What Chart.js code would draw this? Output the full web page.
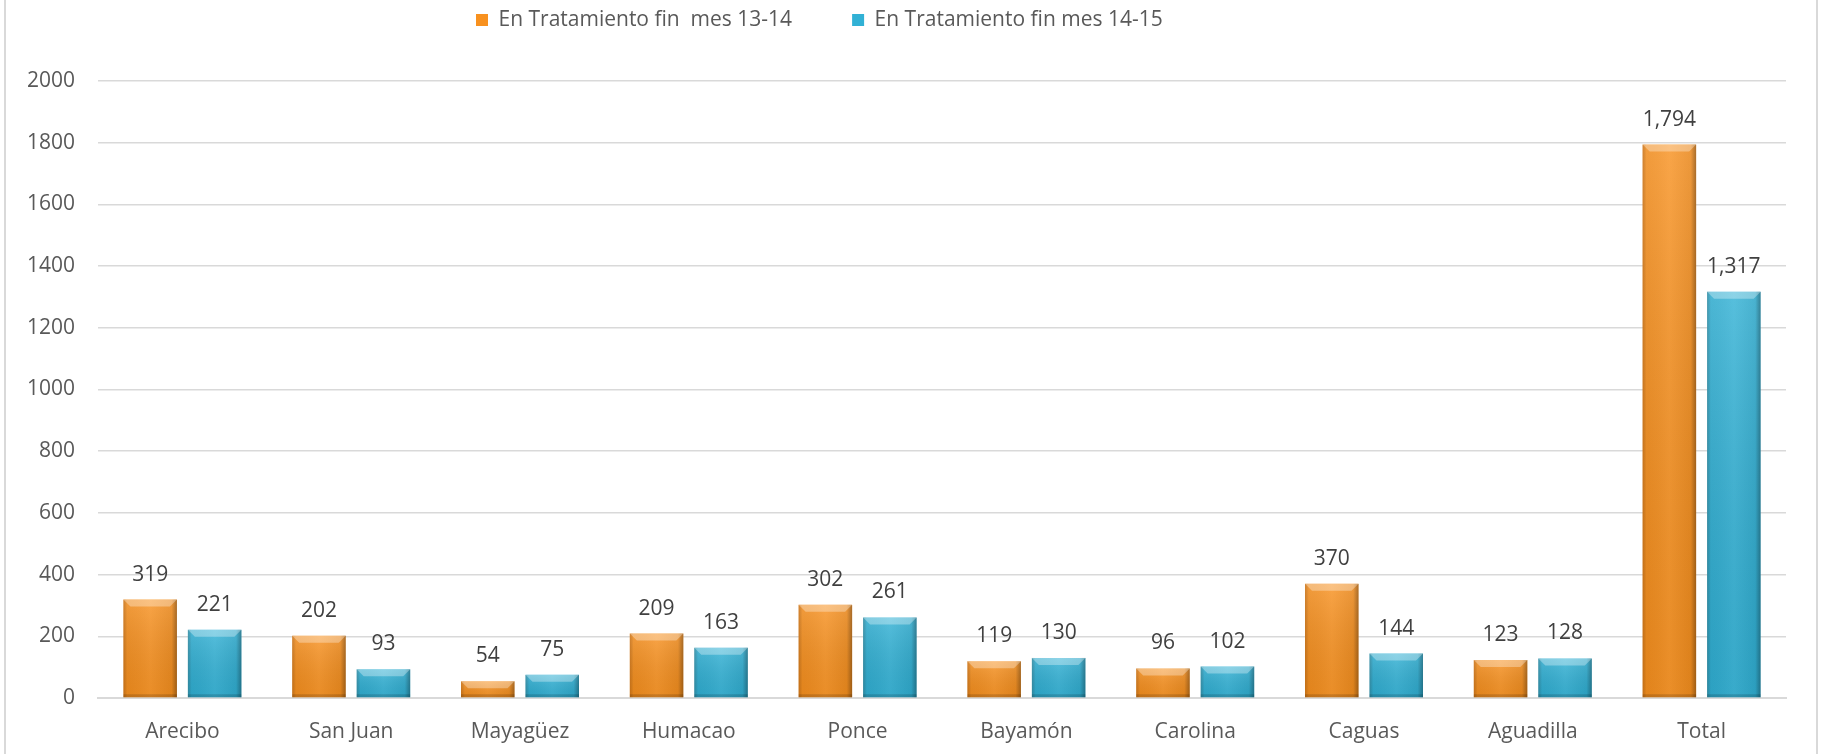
<!DOCTYPE html>
<html>
<head>
<meta charset="utf-8">
<script src="https://cdn.jsdelivr.net/npm/chart.js@4.4.1/dist/chart.umd.min.js"></script>
<style>
    html, body { margin: 0; padding: 0; background: #fff; overflow: hidden; }
    #wrap { position: relative; width: 1821px; height: 754px; }
    #frame { position: absolute; left: 4px; top: -3px; width: 1810px; height: 756px; border: 2px solid #d9d9d9; pointer-events: none; }
</style>
</head>
<body>
<div id="wrap">
    <canvas id="chart" width="1821" height="754"></canvas>
    <div id="frame"></div>
</div>
<script>
const categories = ["Arecibo", "San Juan", "Mayagüez", "Humacao", "Ponce", "Bayamón", "Carolina", "Caguas", "Aguadilla", "Total"];
const tratamiento1314 = [319, 202, 54, 209, 302, 119, 96, 370, 123, 1794];
const tratamiento1415 = [221, 93, 75, 163, 261, 130, 102, 144, 128, 1317];
const seriesLabels = ["En Tratamiento fin  mes 13-14", "En Tratamiento fin mes 14-15"];
const yMin = 0;
const yMax = 2000;
const yStep = 200;

const textColor = "#595959";
const gridColor = "#d9d9d9";

// 3D-ish bevel + value labels on top of each bar
const barDecor = {
    id: "barDecor",
    afterDatasetsDraw(chart) {
        const ctx = chart.ctx;
        chart.data.datasets.forEach((ds, di) => {
            const meta = chart.getDatasetMeta(di);
            meta.data.forEach((bar, i) => {
                const p = bar.getProps(["x", "y", "base", "width"], true);
                const left = p.x - p.width / 2;
                const right = p.x + p.width / 2;
                const top = p.y;
                const bottom = p.base;
                const h = bottom - top;

                ctx.save();
                // vertical light -> dark
                let g = ctx.createLinearGradient(0, top, 0, bottom);
                g.addColorStop(0, "rgba(255,255,255,0.14)");
                g.addColorStop(1, "rgba(0,0,0,0.06)");
                ctx.fillStyle = g;
                ctx.fillRect(left, top, p.width, h);

                // darker side edges
                g = ctx.createLinearGradient(left, 0, right, 0);
                g.addColorStop(0, "rgba(60,20,0,0.22)");
                g.addColorStop(0.07, "rgba(0,0,0,0.03)");
                g.addColorStop(0.5, "rgba(255,255,255,0.05)");
                g.addColorStop(0.9, "rgba(0,0,0,0.05)");
                g.addColorStop(1, "rgba(0,0,0,0.32)");
                ctx.fillStyle = g;
                ctx.fillRect(left, top, p.width, h);

                // top bevel
                const b = Math.min(7, h / 2);
                ctx.beginPath();
                ctx.moveTo(left, top);
                ctx.lineTo(right, top);
                ctx.lineTo(right - b, top + b);
                ctx.lineTo(left + b, top + b);
                ctx.closePath();
                ctx.fillStyle = "rgba(255,255,255,0.32)";
                ctx.fill();

                // bottom shade
                ctx.fillStyle = "rgba(0,0,0,0.15)";
                ctx.fillRect(left, bottom - 3, p.width, 3);

                // value label
                ctx.fillStyle = "#404040";
                ctx.font = "21px 'Open Sans'";
                ctx.textAlign = "center";
                ctx.textBaseline = "middle";
                ctx.fillText(ds.data[i].toLocaleString("en-US"), p.x, top - 25);
                ctx.restore();
            });
        });
    }
};

// legend sits left of centre and higher than chart.js would put it
const legendShift = {
    id: "legendShift",
    afterLayout(chart) {
        const lg = chart.legend;
        if (!lg) return;
        lg.left = 476 - 60;
        lg.right = 1821;
        lg.top = -50.5;
    }
};

new Chart(document.getElementById("chart"), {
    type: "bar",
    data: {
        labels: categories,
        datasets: [
            {
                label: seriesLabels[0],
                data: tratamiento1314,
                backgroundColor: "#f8911f",
                borderWidth: 0,
                categoryPercentage: 0.764,
                barPercentage: 0.83
            },
            {
                label: seriesLabels[1],
                data: tratamiento1415,
                backgroundColor: "#31b1d5",
                borderWidth: 0,
                categoryPercentage: 0.764,
                barPercentage: 0.83
            }
        ]
    },
    options: {
        responsive: false,
        animation: false,
        devicePixelRatio: 1,
        layout: { padding: { left: 5, right: 35, top: -10, bottom: 0 } },
        plugins: {
            legend: {
                position: "top",
                align: "start",
                labels: {
                    boxWidth: 12,
                    boxHeight: 12,
                    padding: 60,
                    color: textColor,
                    font: { family: "'Open Sans'", size: 21 }
                }
            },
            tooltip: { enabled: false }
        },
        scales: {
            x: {
                grid: { display: false },
                border: { display: true, color: gridColor, width: 2 },
                ticks: {
                    color: textColor,
                    padding: 13,
                    font: { family: "'Open Sans'", size: 21 }
                },
                afterFit(scale) { scale.height = 56; }
            },
            y: {
                min: yMin,
                max: yMax,
                grid: { color: gridColor, lineWidth: 1.5, drawTicks: false },
                border: { display: false },
                ticks: {
                    stepSize: yStep,
                    color: textColor,
                    padding: 23,
                    font: { family: "'Open Sans'", size: 21 },
                    callback: v => String(v)
                },
                afterFit(scale) { scale.width = 93; }
            }
        }
    },
    plugins: [barDecor, legendShift]
});
</script>
</body>
</html>
